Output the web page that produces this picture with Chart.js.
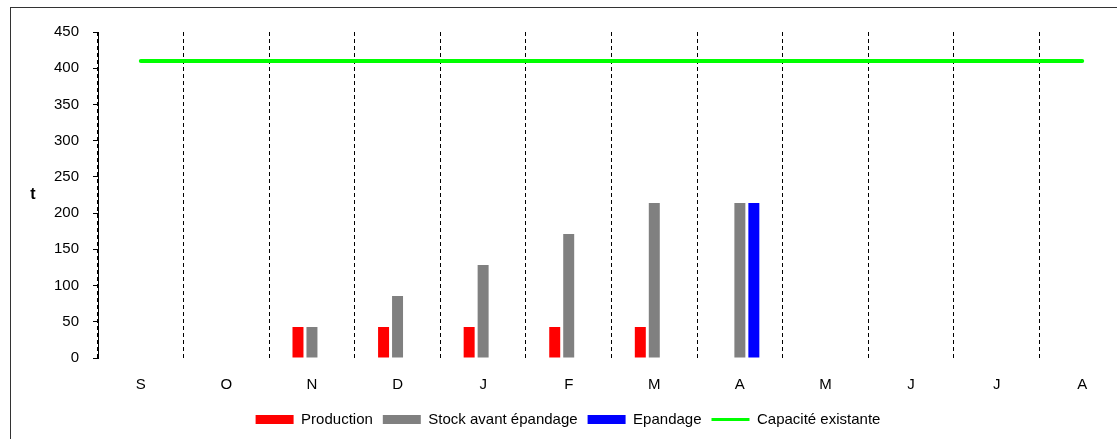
<!DOCTYPE html>
<html>
<head>
<meta charset="utf-8">
<script src="https://cdn.jsdelivr.net/npm/chart.js@4.4.1/dist/chart.umd.min.js"></script>
<style>
	html, body { margin: 0; padding: 0; background: #fff; overflow: hidden; width: 1117px; height: 439px; }
	#frame { position: absolute; left: 10px; top: 7px; width: 1140px; height: 440px; border-left: 1px solid #333; border-top: 1px solid #333; }
	#myChart { display: block; }
</style>
</head>
<body>
<div id="frame"><canvas id="myChart" width="1140" height="440"></canvas></div>
<script>
// mois de la campagne
var labels = ['S', 'O', 'N', 'D', 'J', 'F', 'M', 'A', 'M', 'J', 'J', 'A']
var production = [null, null, 42.8, 42.8, 42.8, 42.8, 42.8, null, null, null, null, null]
var stock = [null, null, 42.8, 85.6, 128.4, 171.2, 214, 214, null, null, null, null]
var epandage = [null, null, null, null, null, null, null, 214, null, null, null, null]
var capacite = [410, 410, 410, 410, 410, 410, 410, 410, 410, 410, 410, 410]
var yTicks = [0, 50, 100, 150, 200, 250, 300, 350, 400, 450]

var font = 'Arial, "Liberation Sans", sans-serif'
var ctx = document.getElementById('myChart')

// titre "t" non tourné a gauche de l'axe
var yLabel = {
	id: 'yLabel',
	afterDraw: function(chart) {
		var c = chart.ctx
		var area = chart.chartArea
		c.save()
		c.font = 'bold 16px ' + font
		c.fillStyle = '#000'
		c.textAlign = 'center'
		c.textBaseline = 'middle'
		c.fillText('t', 22, (area.top + area.bottom) / 2)
		c.restore()
	}
}

window.myChart = new Chart(ctx, {
	type: 'bar',
	data: {
		labels: labels,
		datasets: [{
			label: 'Production',
			data: production,
			backgroundColor: '#ff0000'
		}, {
			label: 'Stock avant épandage',
			data: stock,
			backgroundColor: '#808080'
		}, {
			label: 'Epandage',
			data: epandage,
			backgroundColor: '#0000ff'
		}, {
			type: 'line',
			label: 'Capacité existante',
			data: capacite,
			borderColor: '#00ff00',
			backgroundColor: '#00ff00',
			borderWidth: 4,
			borderCapStyle: 'round',
			pointRadius: 0,
			fill: false
		}]
	},
	plugins: [yLabel],
	options: {
		responsive: false,
		animation: false,
		devicePixelRatio: 1,
		categoryPercentage: 0.49,
		barPercentage: 0.786,
		layout: {
			padding: { left: 0, top: 24, right: 26, bottom: 11 }
		},
		scales: {
			x: {
				offset: true,
				grid: {
					offset: true,
					color: '#000',
					lineWidth: 1,
					drawTicks: false
				},
				border: { display: false, dash: [4, 3] },
				ticks: {
					padding: 18,
					color: '#000',
					font: { family: font, size: 15 }
				},
				afterFit: function(scale) {
					scale.height = 44
				}
			},
			y: {
				min: 0,
				max: 450,
				afterBuildTicks: function(scale) {
					scale.ticks = yTicks.map(function(v) { return { value: v } })
				},
				grid: {
					drawOnChartArea: false,
					drawTicks: true,
					tickLength: 5,
					color: '#000'
				},
				border: { display: true, color: '#000', width: 1 },
				ticks: {
					padding: 14,
					color: '#000',
					font: { family: font, size: 15 }
				},
				afterFit: function(scale) {
					scale.width = 87
				}
			}
		},
		plugins: {
			tooltip: { enabled: false },
			legend: {
				position: 'bottom',
				labels: {
					usePointStyle: true,
					pointStyleWidth: 38,
					boxHeight: 9,
					padding: 10,
					color: '#000',
					font: { family: font, size: 15 },
					generateLabels: function(chart) {
						var items = Chart.defaults.plugins.legend.labels.generateLabels(chart)
						items.forEach(function(it, i) {
							it.pointStyle = (i == 3) ? 'line' : 'rect'
							if (i == 3) it.lineWidth = 3
						})
						return items
					}
				}
			}
		}
	}
})
</script>
</body>
</html>
